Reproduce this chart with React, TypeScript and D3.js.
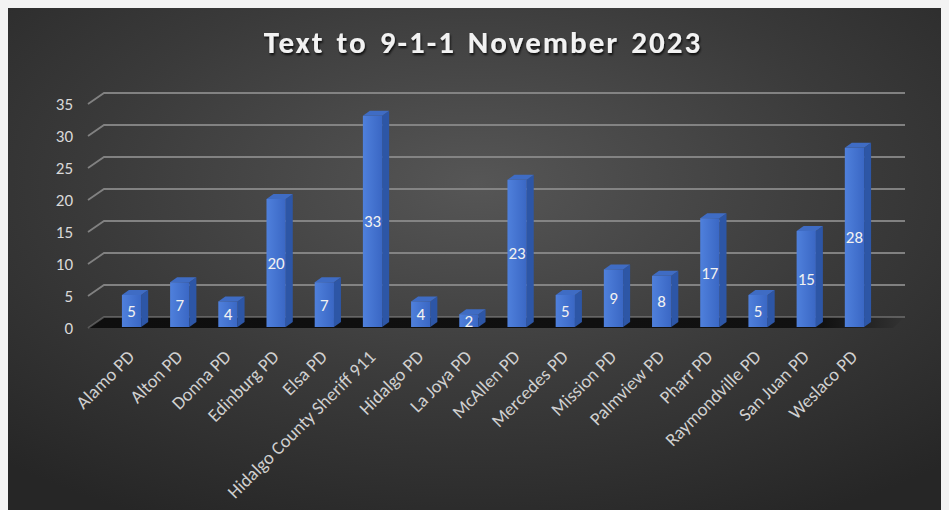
import React, { useEffect } from "react";
import * as d3 from "d3";

const categories = [
  "Alamo PD", "Alton PD", "Donna PD", "Edinburg PD", "Elsa PD",
  "Hidalgo County Sheriff 911", "Hidalgo PD", "La Joya PD", "McAllen PD",
  "Mercedes PD", "Mission PD", "Palmview PD", "Pharr PD", "Raymondville PD",
  "San Juan PD", "Weslaco PD",
];
const values = [5, 7, 4, 20, 7, 33, 4, 2, 23, 5, 9, 8, 17, 5, 15, 28];
const yTicks = [0, 5, 10, 15, 20, 25, 30, 35];
const title = "Text to 9-1-1 November 2023";

const W = 938;
const H = 502;
const OX = 8; // svg offset in page (body margin)
const OY = 8;

export default function App() {
  useEffect(() => {
    document.body.style.background = "#f3f3f3";
    document.body.style.overflow = "hidden";
  }, []);

  const x = d3.scaleBand<string>().domain(categories).range([93 - OX, 893 - OX]).padding(0.6);
  const y = d3.scaleLinear().domain([0, 35]).range([327 - OY, 103 - OY]);

  const wallDx = 16;
  const wallDy = 10;
  const barDx = 7;
  const barDy = 5;
  const gridLeft = 88 - OX;
  const gridRight = 905 - OX;
  const font = "Calibri, Carlito, Lato, sans-serif";

  return (
    <svg width={W} height={H} style={{ display: "block" }}>
      <defs>
        <radialGradient id="bg" cx="0.5" cy="0.35" r="0.75">
          <stop offset="0" stopColor="#565656" />
          <stop offset="0.55" stopColor="#3a3a3a" />
          <stop offset="1" stopColor="#262626" />
        </radialGradient>
        <linearGradient id="front" x1="0" x2="1" y1="0" y2="0">
          <stop offset="0" stopColor="#4f80dc" />
          <stop offset="1" stopColor="#3a67c4" />
        </linearGradient>
        <linearGradient id="floorShade" x1="0" x2="1">
          <stop offset="0" stopColor="#0e0e0e" />
          <stop offset="0.9" stopColor="#111" />
          <stop offset="1" stopColor="#333" />
        </linearGradient>
        <filter id="tshadow" x="-10%" y="-30%" width="120%" height="160%">
          <feDropShadow dx="1" dy="2" stdDeviation="1.2" floodColor="#000" floodOpacity="0.8" />
        </filter>
      </defs>
      <rect x={0} y={0} width={W} height={H} fill="url(#bg)" />

      <text
        x={483 - OX}
        y={53 - OY}
        textAnchor="middle"
        fill="#f2f2f2"
        fontFamily={font}
        fontWeight="bold"
        fontSize={31}
        letterSpacing={2}
        wordSpacing={3}
        filter="url(#tshadow)"
      >
        {title}
      </text>

      {/* floor */}
      <path
        d={`M${gridLeft},${y(0) + 1} L${gridLeft + wallDx},${y(0) - wallDy} L${gridRight},${y(0) - wallDy} L${gridRight - wallDx + 4},${y(0) + 1} Z`}
        fill="url(#floorShade)"
      />

      {/* gridlines */}
      {yTicks.map((t) => (
        <g key={t}>
          <path
            d={`M${gridLeft},${y(t) + 1} L${gridLeft + wallDx},${y(t) - wallDy} L${gridRight},${y(t) - wallDy}`}
            fill="none"
            stroke="#8a8a8a"
            strokeWidth={1.8}
            strokeOpacity={t === 0 ? 0.5 : 0.9}
          />
          <text
            x={73 - OX}
            y={y(t) + 1}
            dy="0.35em"
            textAnchor="end"
            fill="#d9d9d9"
            fontFamily={font}
            fontSize={17}
          >
            {t}
          </text>
        </g>
      ))}

      {/* bars */}
      {categories.map((c, i) => {
        const v = values[i];
        const x0 = x(c)!;
        const bw = x.bandwidth();
        const yt = y(v);
        const yb = y(0);
        return (
          <g key={c}>
            <path
              d={`M${x0 + bw},${yb} L${x0 + bw + barDx},${yb - barDy} L${x0 + bw + barDx},${yt - barDy} L${x0 + bw},${yt} Z`}
              fill="#2d56a6"
            />
            <path
              d={`M${x0},${yt} L${x0 + barDx},${yt - barDy} L${x0 + bw + barDx},${yt - barDy} L${x0 + bw},${yt} Z`}
              fill="#3f6cc4"
            />
            <rect x={x0} y={yt} width={bw} height={yb - yt} fill="url(#front)" />
            <text
              x={x0 + bw / 2}
              y={(yt + yb) / 2}
              dy="0.35em"
              textAnchor="middle"
              fill="#f2f2f2"
              fontFamily={font}
              fontSize={17}
            >
              {v}
            </text>
          </g>
        );
      })}

      {/* category labels */}
      {categories.map((c) => {
        const cx = x(c)! + x.bandwidth() / 2 + 4;
        const cy = 358 - OY;
        return (
          <text
            key={c}
            transform={`translate(${cx},${cy}) rotate(-45)`}
            textAnchor="end"
            fill="#d0d0d0"
            fontFamily={font}
            fontSize={18.5}
          >
            {c}
          </text>
        );
      })}
    </svg>
  );
}
